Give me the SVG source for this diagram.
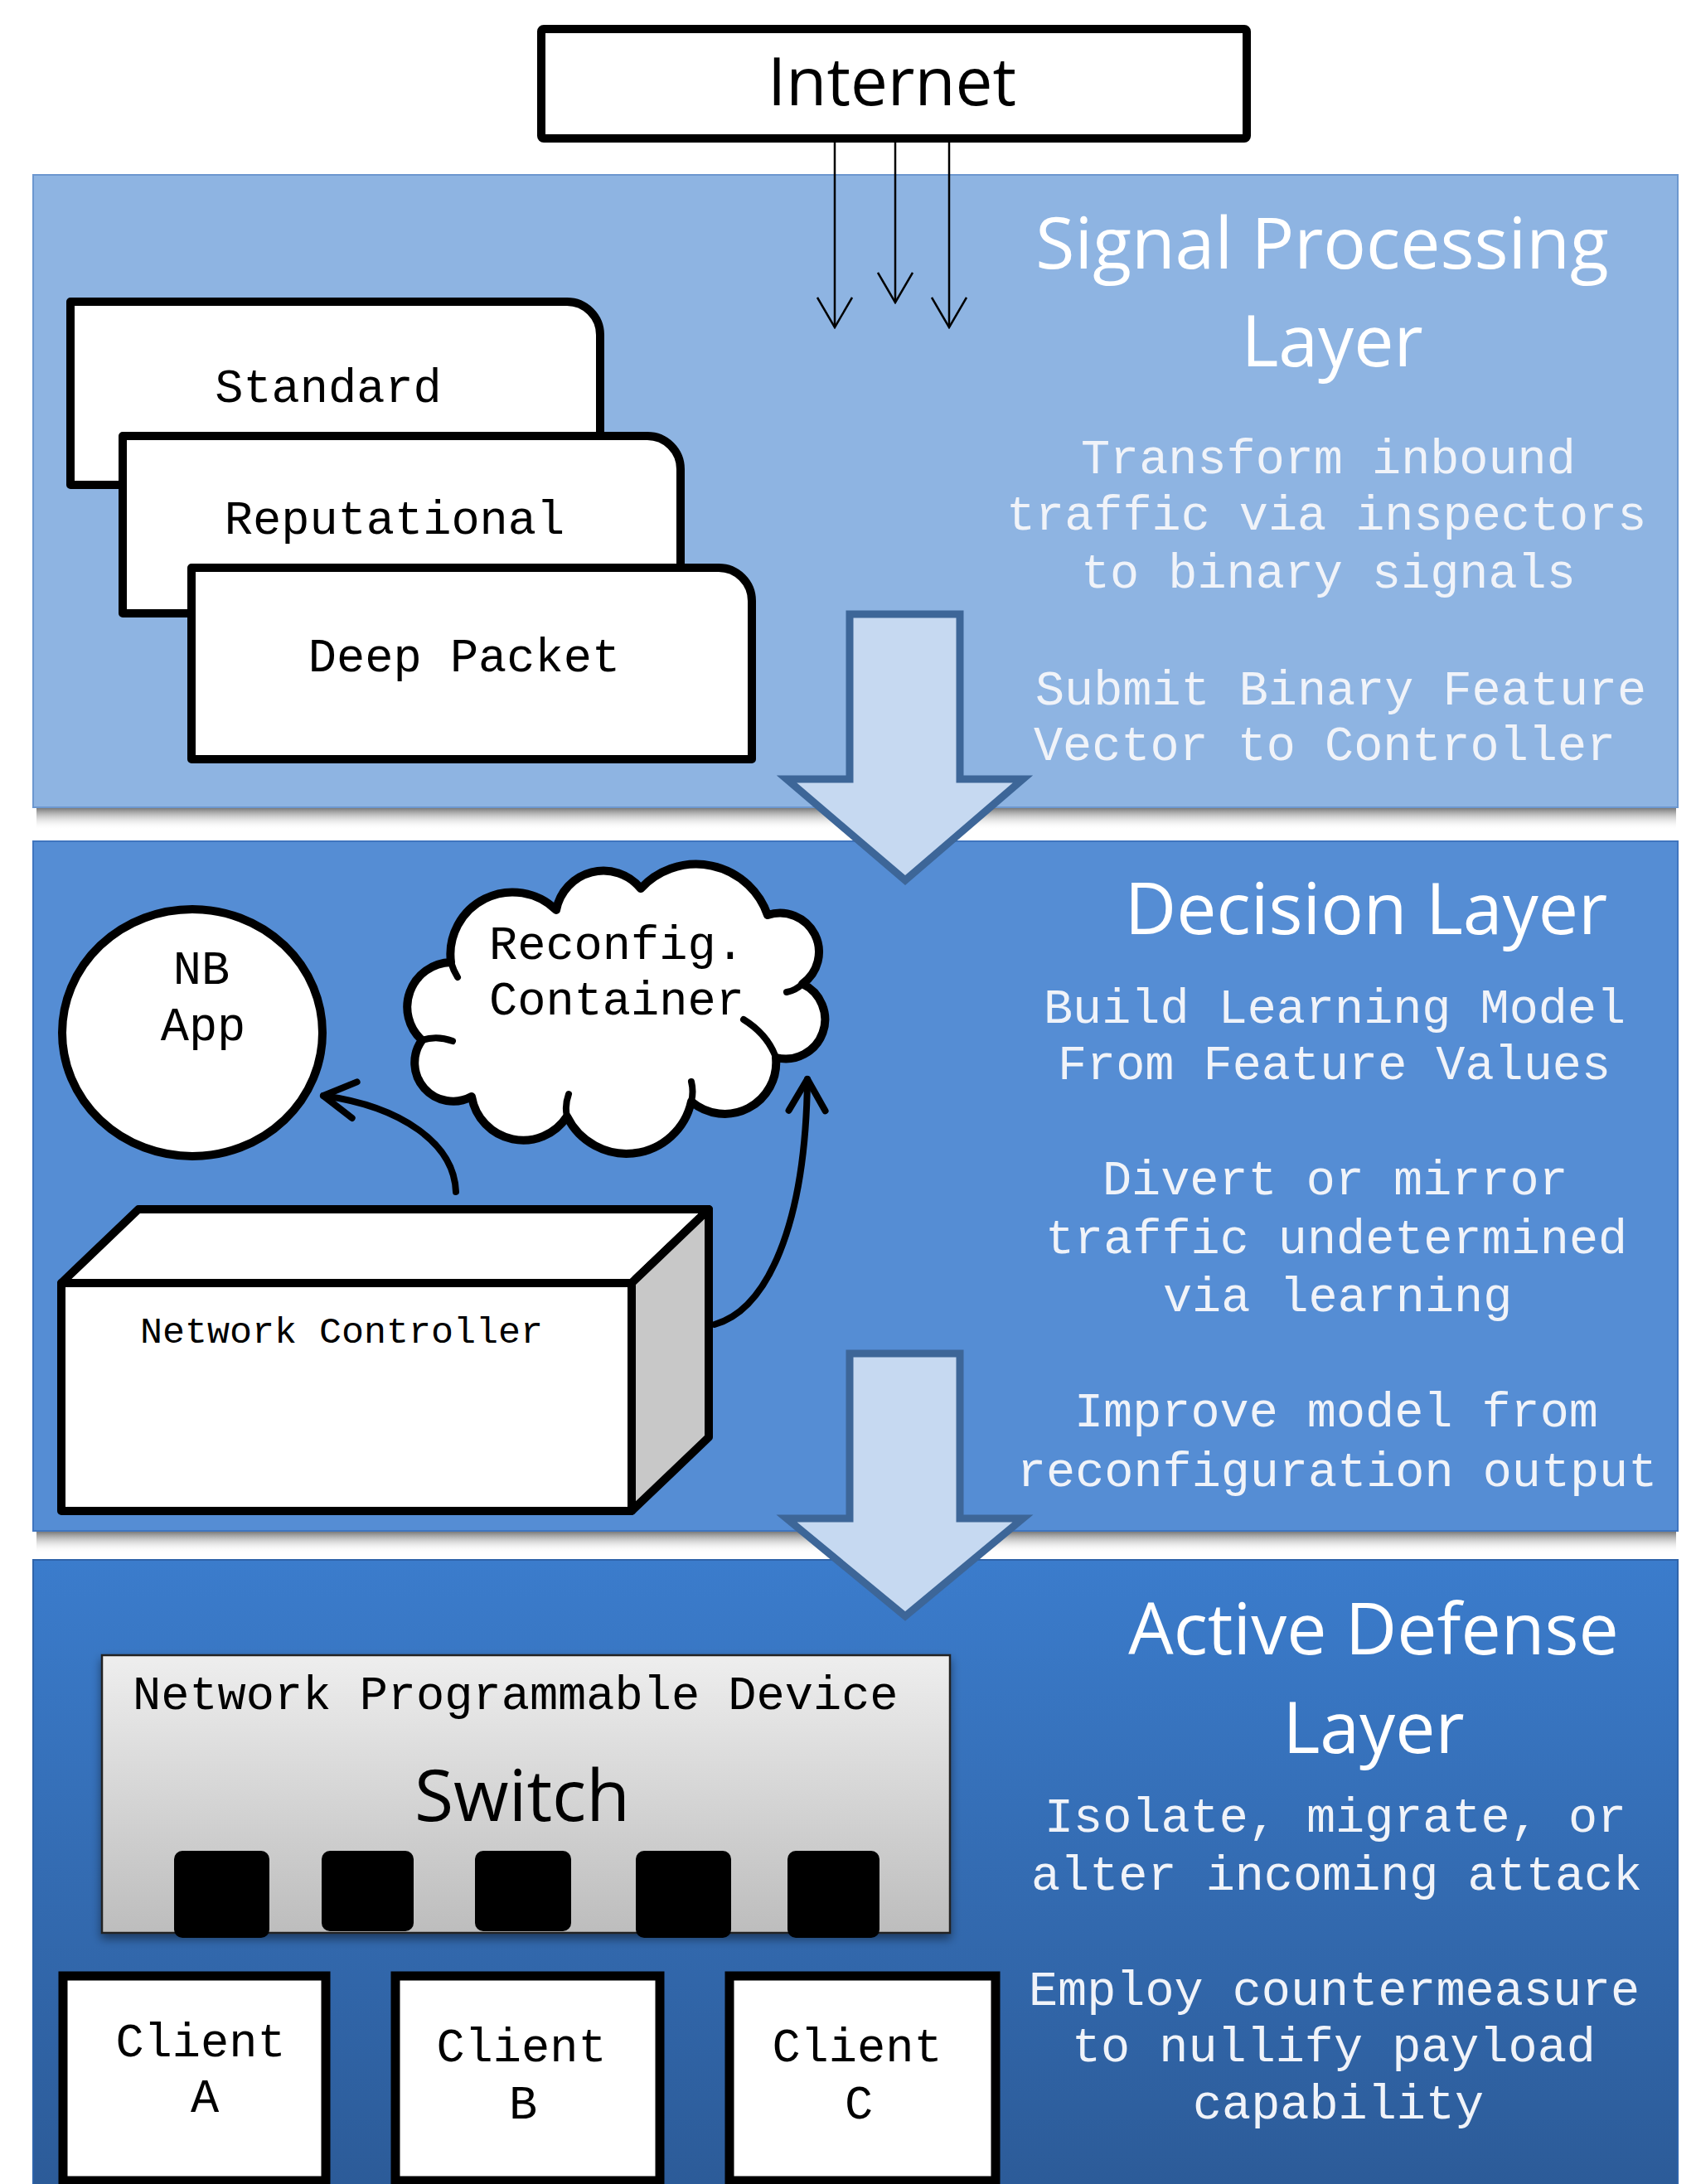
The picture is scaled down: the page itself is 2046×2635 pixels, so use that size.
<svg xmlns="http://www.w3.org/2000/svg" width="2046" height="2635" viewBox="0 0 2046 2635">
  <defs>
    <style>
      .mono{font-family:"Liberation Mono","Courier New",monospace}
      .sans{font-family:"Open Sans","Noto Sans","Liberation Sans",sans-serif}
      .body{font-size:58.5px;fill:#F0F3F9}
      .title{font-size:86px;fill:#FFFFFF}
      .lbl{font-size:57px;fill:#000000}
      .mid{text-anchor:middle}
      .card{fill:#FFFFFF;stroke:#000000;stroke-width:10;stroke-linejoin:round}
      .thick{fill:none;stroke:#000000;stroke-width:8;stroke-linecap:round}
      .thin{fill:none;stroke:#000000;stroke-width:2.5}
      .block{fill:#C6D9F1;stroke:#3D6698;stroke-width:9;stroke-linejoin:miter}
      .port{fill:#000000}
      .shadow{fill:url(#shadowGrad)}
      .cube{stroke:#000000;stroke-width:10;stroke-linejoin:round}
    </style>
    <linearGradient id="layer3Grad" x1="0" y1="0" x2="0" y2="1">
      <stop offset="0" stop-color="#3B7CCC"/>
      <stop offset="1" stop-color="#2C5B98"/>
    </linearGradient>
    <linearGradient id="switchGrad" x1="0" y1="0" x2="0" y2="1">
      <stop offset="0" stop-color="#EEEEEE"/>
      <stop offset="1" stop-color="#BDBDBD"/>
    </linearGradient>
    <linearGradient id="shadowGrad" x1="0" y1="0" x2="0" y2="1">
      <stop offset="0" stop-color="#7A7A7A"/>
      <stop offset="1" stop-color="#FFFFFF" stop-opacity="0"/>
    </linearGradient>
    <filter id="drop" x="-10%" y="-10%" width="120%" height="130%">
      <feDropShadow dx="0" dy="6" stdDeviation="6" flood-color="#000000" flood-opacity="0.45"/>
    </filter>
    <marker id="openThin" markerUnits="userSpaceOnUse" viewBox="0 0 40 44" markerWidth="40" markerHeight="44" refX="38" refY="22" orient="auto">
      <path d="M2,1 L38,22 L2,43" fill="none" stroke="#000000" stroke-width="2.5"/>
    </marker>
    <marker id="openThick" markerUnits="userSpaceOnUse" viewBox="0 0 56 56" markerWidth="56" markerHeight="56" refX="46" refY="28" orient="auto">
      <path d="M8,6 L46,28 L8,50" fill="none" stroke="#000000" stroke-width="8" stroke-linecap="round" stroke-linejoin="round"/>
    </marker>
  </defs>

  <rect x="0" y="0" width="2046" height="2635" fill="#FFFFFF"/>

  <!-- Layers -->
  <g id="layer-signal">
    <rect x="40" y="211" width="1984" height="763" fill="#8EB4E2" stroke="#6C97CF" stroke-width="2"/>
    <rect class="shadow" x="44" y="975" width="1978" height="26"/>
    <text class="sans title mid" x="1595" y="324">Signal Processing</text>
    <text class="sans title mid" x="1607" y="442">Layer</text>
    <text class="mono body" x="1304" y="571">Transform inbound</text>
    <text class="mono body" x="1214" y="639">traffic via inspectors</text>
    <text class="mono body" x="1304" y="709">to binary signals</text>
    <text class="mono body" x="1249" y="850">Submit Binary Feature</text>
    <text class="mono body" x="1247" y="917">Vector to Controller</text>
  </g>

  <g id="layer-decision">
    <rect x="40" y="1015" width="1984" height="832" fill="#558DD4" stroke="#3F75BF" stroke-width="2"/>
    <rect class="shadow" x="44" y="1848" width="1978" height="26"/>
    <text class="sans title mid" x="1648" y="1127">Decision Layer</text>
    <text class="mono body" x="1259" y="1234">Build Learning Model</text>
    <text class="mono body" x="1276" y="1302">From Feature Values</text>
    <text class="mono body" x="1330" y="1441">Divert or mirror</text>
    <text class="mono body" x="1261" y="1512">traffic undetermined</text>
    <text class="mono body" x="1403" y="1582">via learning</text>
    <text class="mono body" x="1296" y="1721">Improve model from</text>
    <text class="mono body" x="1227" y="1793">reconfiguration output</text>
  </g>

  <g id="layer-active">
    <rect x="40" y="1882" width="1984" height="760" fill="url(#layer3Grad)" stroke="#2F64AA" stroke-width="2"/>
    <text class="sans title mid" x="1657" y="1996">Active Defense</text>
    <text class="sans title mid" x="1657" y="2115">Layer</text>
    <text class="mono body" x="1260" y="2210">Isolate, migrate, or</text>
    <text class="mono body" x="1244" y="2280">alter incoming attack</text>
    <text class="mono body" x="1241" y="2419">Employ countermeasure</text>
    <text class="mono body" x="1293" y="2487">to nullify payload</text>
    <text class="mono body" x="1439" y="2556">capability</text>
  </g>

  <!-- Connectors -->
  <g id="connectors">
    <line class="thin" x1="1007" y1="172" x2="1007" y2="395" marker-end="url(#openThin)"/>
    <line class="thin" x1="1080" y1="172" x2="1080" y2="365" marker-end="url(#openThin)"/>
    <line class="thin" x1="1145" y1="172" x2="1145" y2="395" marker-end="url(#openThin)"/>
    <path class="block" d="M1025,741 H1158 V940 H1234 L1092,1062 L949,940 H1025 Z"/>
    <path class="block" d="M1025,1633 H1158 V1832 H1234 L1092,1950 L949,1832 H1025 Z"/>
    <path class="thick" d="M550,1438 C548,1380 485,1335 390,1322" marker-end="url(#openThick)"/>
    <path class="thick" d="M862,1598 C925,1580 972,1480 974,1302" marker-end="url(#openThick)"/>
  </g>

  <!-- Nodes -->
  <g id="internet">
    <rect x="653" y="35" width="851" height="132" rx="3" fill="#FFFFFF" stroke="#000000" stroke-width="10"/>
    <text class="sans mid" x="1076" y="127" font-size="80" fill="#000000">Internet</text>
  </g>

  <g id="standard">
    <path class="card" d="M85,364 H684 A40,40 0 0 1 724,404 V585 H85 Z"/>
    <text class="mono lbl mid" x="396" y="485">Standard</text>
  </g>
  <g id="reputational">
    <path class="card" d="M148,526 H781 A40,40 0 0 1 821,566 V740 H148 Z"/>
    <text class="mono lbl mid" x="476" y="644">Reputational</text>
  </g>
  <g id="deep-packet">
    <path class="card" d="M231,685 H867 A40,40 0 0 1 907,725 V916 H231 Z"/>
    <text class="mono lbl mid" x="560" y="810">Deep Packet</text>
  </g>

  <g id="nb-app">
    <ellipse cx="232" cy="1246" rx="157" ry="149" fill="#FFFFFF" stroke="#000000" stroke-width="10"/>
    <text class="mono lbl mid" x="243" y="1187">NB</text>
    <text class="mono lbl mid" x="245" y="1255">App</text>
  </g>

  <g id="reconfig-container">
    <path d="M544,1161 A75,75 0 0 1 671,1098 A58,58 0 0 1 773,1072 A91,91 0 0 1 926,1104 A47,47 0 0 1 968,1187 A47.5,47.5 0 0 1 936,1276 A62,62 0 0 1 834,1329 A80,80 0 0 1 684,1347 A63,63 0 0 1 569,1323 A46.5,46.5 0 0 1 509,1255 A54,54 0 0 1 544,1161 Z" fill="#FFFFFF" stroke="#000000" stroke-width="10" stroke-linejoin="round"/>
    <path d="M509,1255 Q527,1249 546,1256 M684,1347 Q681,1334 686,1320 M834,1329 Q837,1317 834,1305 M936,1276 Q926,1248 897,1230 M968,1187 Q960,1195 949,1197 M544,1161 Q547,1171 552,1179" fill="none" stroke="#000000" stroke-width="8" stroke-linecap="round"/>
    <text class="mono lbl" x="590" y="1157">Reconfig.</text>
    <text class="mono lbl" x="590" y="1224">Container</text>
  </g>

  <g id="network-controller">
    <rect class="cube" x="74" y="1548" width="688" height="275" fill="#FFFFFF"/>
    <path class="cube" d="M74,1548 L167,1459 H855 L762,1548 Z" fill="#FFFFFF"/>
    <path class="cube" d="M762,1548 L855,1459 V1734 L762,1823 Z" fill="#C8C8C8"/>
    <text class="mono" x="169" y="1620" font-size="45" fill="#000000">Network Controller</text>
  </g>

  <g id="switch">
    <rect x="123" y="1997" width="1023" height="335" fill="url(#switchGrad)" stroke="#222222" stroke-width="2.5" filter="url(#drop)"/>
    <text class="mono lbl" x="160" y="2062">Network Programmable Device</text>
    <text class="sans mid" x="630" y="2197" font-size="86" fill="#000000">Switch</text>
    <rect class="port" x="210" y="2233" width="115" height="105" rx="10"/>
    <rect class="port" x="388" y="2233" width="111" height="97" rx="10"/>
    <rect class="port" x="573" y="2233" width="116" height="97" rx="10"/>
    <rect class="port" x="767" y="2233" width="115" height="105" rx="10"/>
    <rect class="port" x="950" y="2233" width="111" height="105" rx="10"/>
  </g>

  <g id="client-a">
    <rect x="76" y="2384" width="317" height="247" fill="#FFFFFF" stroke="#000000" stroke-width="11"/>
    <text class="mono lbl mid" x="242" y="2481">Client</text>
    <text class="mono lbl mid" x="247" y="2548">A</text>
  </g>
  <g id="client-b">
    <rect x="477" y="2384" width="319" height="247" fill="#FFFFFF" stroke="#000000" stroke-width="11"/>
    <text class="mono lbl mid" x="629" y="2487">Client</text>
    <text class="mono lbl mid" x="631" y="2556">B</text>
  </g>
  <g id="client-c">
    <rect x="880" y="2384" width="321" height="247" fill="#FFFFFF" stroke="#000000" stroke-width="11"/>
    <text class="mono lbl mid" x="1034" y="2487">Client</text>
    <text class="mono lbl mid" x="1036" y="2556">C</text>
  </g>
</svg>
